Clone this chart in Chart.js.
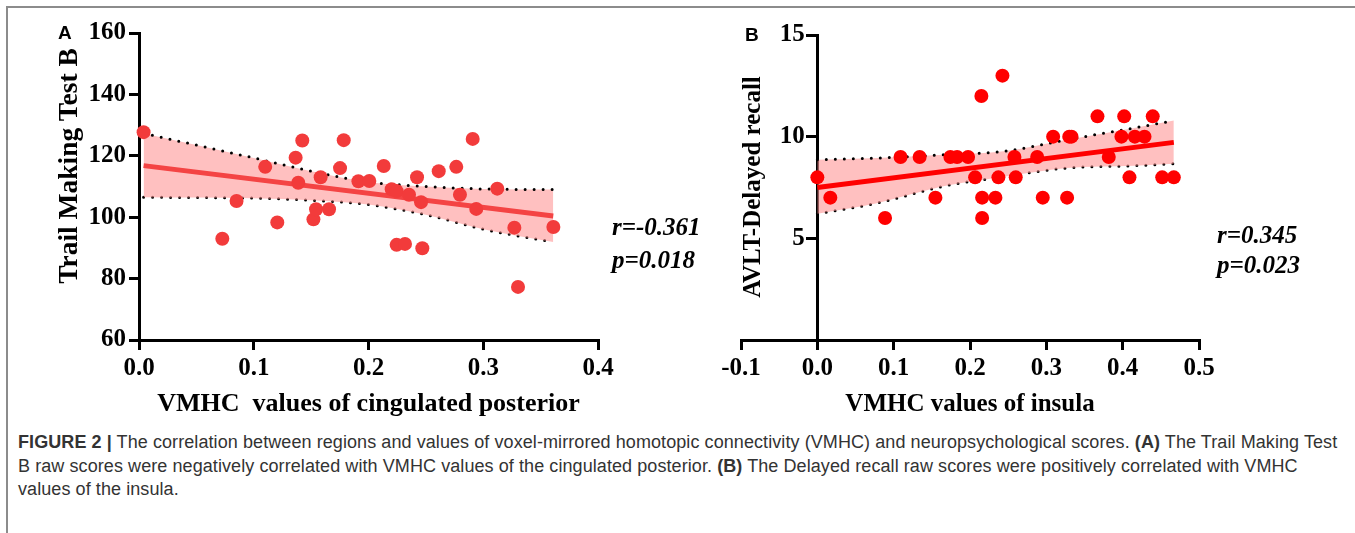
<!DOCTYPE html>
<html>
<head>
<meta charset="utf-8">
<script src="https://cdn.jsdelivr.net/npm/chart.js@4.4.1/dist/chart.umd.min.js"></script>
<style>
  body { margin: 0; width: 1355px; height: 533px; background: #fff; position: relative; overflow: hidden; }
  .frame { position: absolute; left: 6px; top: 6px; width: 1349px; height: 527px; border-top: 2px solid #8c8c8c; border-left: 2px solid #8c8c8c; }
  .panel { position: absolute; top: 0; height: 430px; }
  #boxA { left: 0; width: 680px; }
  #boxB { left: 700px; width: 655px; }
  .tag { position: absolute; font: bold 19px "Liberation Sans", Arial, sans-serif; color: #000; }
  .stat { position: absolute; font: italic bold 25px "Liberation Serif", "Times New Roman", serif; line-height: 33px; color: #000; }
  .ytitle { position: absolute; font: bold 25px "Liberation Serif", "Times New Roman", serif; color: #000; white-space: nowrap;
            transform: translate(-50%, -50%) rotate(-90deg); }
  .caption { position: absolute; left: 18px; top: 431px; font: 18px "Liberation Sans", Arial, sans-serif; color: #333;
             letter-spacing: 0.08px; line-height: 23.5px; white-space: nowrap; }
</style>
</head>
<body>
<div class="frame"></div>

<div class="panel" id="boxA"><canvas id="chartA"></canvas></div>
<div class="panel" id="boxB"><canvas id="chartB"></canvas></div>

<div class="tag" style="left:58px; top:22px;">A</div>
<div class="tag" style="left:745px; top:24px;">B</div>

<div class="stat" style="left:612px; top:210px;">r=-0.361<br>p=0.018</div>
<div class="stat" style="left:1217px; top:220px; line-height:30px;">r=0.345<br>p=0.023</div>

<!-- y titles are placed by hand: A sits above the axis centre, B's axis is pinned at x=0 -->
<div class="ytitle" style="left:68px; top:166px; font-size:27.5px;">Trail Making Test B</div>
<div class="ytitle" style="left:752px; top:187px;">AVLT-Delayed recall</div>

<div class="caption">
  <b>FIGURE 2 |</b> The correlation between regions and values of voxel-mirrored homotopic connectivity (VMHC) and neuropsychological scores. <b>(A)</b> The Trail Making Test<br>
  B raw scores were negatively correlated with VMHC values of the cingulated posterior. <b>(B)</b> The Delayed recall raw scores were positively correlated with VMHC<br>
  values of the insula.
</div>

<script>
// ---- Panel A: Trail Making Test B vs VMHC (cingulated posterior) ----
const aX = [0.004, 0.0726, 0.085, 0.110, 0.1205, 0.1365, 0.1423, 0.1388, 0.152, 0.1543, 0.1583, 0.1656,
            0.1752, 0.1784, 0.1912, 0.2007, 0.2133, 0.2202, 0.2245, 0.2245, 0.2318, 0.2353, 0.2423, 0.2458,
            0.2469, 0.2612, 0.2765, 0.2797, 0.2908, 0.2939, 0.3122, 0.3271, 0.3303, 0.3611];
const aY = [127.7, 93.0, 105.3, 116.4, 98.3, 119.4, 125.0, 111.2, 99.3, 102.6, 113.0, 102.6,
            116.0, 125.1, 111.7, 111.8, 116.7, 109.1, 108.5, 91.0, 91.3, 107.3, 113.0, 104.9,
            89.9, 115.0, 116.4, 107.3, 125.5, 102.7, 109.3, 96.6, 77.3, 96.8];
const aFitX = [0.004, 0.361];
const aFitY = [116.8, 100.4];
const aBandX = [0.004, 0.05, 0.1, 0.15, 0.2, 0.25, 0.3, 0.361];
const aUpper = [127.3, 123.5, 119.3, 115.0, 111.5, 110.0, 109.2, 109.0];
const aLower = [106.5, 106.4, 106.2, 105.5, 104.1, 100.8, 96.1, 91.9];
const aXTicks = [0, 0.1, 0.2, 0.3, 0.4];
const aYTicks = [60, 80, 100, 120, 140, 160];

// ---- Panel B: AVLT-Delayed recall vs VMHC (insula) ----
const bX = [0.0, 0.017, 0.0887, 0.109, 0.134, 0.1547, 0.1743, 0.1831, 0.1975, 0.2067, 0.2149, 0.2159,
            0.2159, 0.2333, 0.2372, 0.2425, 0.2582, 0.2599, 0.288, 0.2953, 0.3089, 0.3272, 0.330, 0.333,
            0.367, 0.3818, 0.3984, 0.402, 0.4089, 0.4159, 0.4286, 0.4394, 0.4518, 0.467];
const bY = [8, 7, 6, 9, 9, 7, 9, 9, 9, 8, 12, 7,
            6, 7, 8, 13, 9, 8, 9, 7, 10, 7, 10, 10,
            11, 9, 10, 11, 8, 10, 10, 11, 8, 8];
const bFitX = [0.0, 0.467];
const bFitY = [7.50, 9.72];
const bBandX = [0.0, 0.078, 0.165, 0.244, 0.327, 0.415, 0.467];
const bUpper = [8.87, 8.95, 9.11, 9.28, 9.85, 10.43, 10.79];
const bLower = [6.21, 6.73, 7.56, 8.03, 8.46, 8.57, 8.67];
const bXTicks = [-0.1, 0, 0.1, 0.2, 0.3, 0.4, 0.5];
const bYTicks = [0, 5, 10, 15];

const serif = "'Liberation Serif', 'Times New Roman', serif";
const tickFont = { family: serif, size: 25, weight: 'bold' };

function pts(xs, ys) {
    return xs.map((x, i) => ({ x: x, y: ys[i] }));
}

function buildDatasets(xs, ys, fitX, fitY, bandX, upper, lower, dotColor, lineColor) {
    const dotted = {
        showLine: true, pointRadius: 0, borderColor: '#000', borderWidth: 3,
        borderDash: [0, 9], borderCapStyle: 'round', cubicInterpolationMode: 'monotone', clip: false
    };
    return [
        { data: pts(xs, ys), backgroundColor: dotColor, pointRadius: 7, pointBorderWidth: 0, order: 0, clip: false },
        { data: pts(fitX, fitY), showLine: true, pointRadius: 0, borderColor: lineColor, borderWidth: 5, order: 1, clip: false },
        Object.assign({ data: pts(bandX, upper), fill: '+1', backgroundColor: 'rgba(255, 150, 150, 0.6)', order: 2 }, dotted),
        Object.assign({ data: pts(bandX, lower), fill: false, order: 3 }, dotted)
    ];
}

function axis(min, max, ticks, extra) {
    return Object.assign({
        type: 'linear', min: min, max: max,
        afterBuildTicks: s => { s.ticks = ticks.map(v => ({ value: v })); },
        ticks: { font: tickFont, color: '#000', padding: 4, callback: v => v },
        grid: { drawOnChartArea: false, color: '#000', lineWidth: 3, tickLength: 10 },
        border: { display: true, color: '#000', width: 3 }
    }, extra);
}

const baseOptions = {
    responsive: true,
    maintainAspectRatio: false,
    animation: false,
    plugins: { legend: { display: false }, tooltip: { enabled: false } }
};

new Chart(document.getElementById('chartA'), {
    type: 'scatter',
    data: { datasets: buildDatasets(aX, aY, aFitX, aFitY, aBandX, aUpper, aLower, '#f23b3b', '#f44444') },
    options: Object.assign({}, baseOptions, {
        layout: { padding: { left: 55, top: 33, right: 82, bottom: 10 } },
        scales: {
            x: axis(0, 0.4, aXTicks, {
                ticks: { font: tickFont, color: '#000', padding: 4, callback: v => v.toFixed(1) },
                title: { display: true, text: 'VMHC  values of cingulated posterior', color: '#000',
                         font: { family: serif, size: 26, weight: 'bold' }, padding: 0 },
                afterFit: s => { s.height = 80; }
            }),
            y: axis(60, 160, aYTicks, {
                ticks: { font: tickFont, color: '#000', padding: 3, callback: v => v },
                afterFit: s => { s.width = 84; }
            })
        }
    })
});

new Chart(document.getElementById('chartB'), {
    type: 'scatter',
    data: { datasets: buildDatasets(bX, bY, bFitX, bFitY, bBandX, bUpper, bLower, '#ff0000', '#ff0000') },
    options: Object.assign({}, baseOptions, {
        layout: { padding: { left: 41, top: 35, right: 156, bottom: 10 } },
        scales: {
            x: axis(-0.1, 0.5, bXTicks, {
                ticks: { font: tickFont, color: '#000', padding: 4, callback: v => v.toFixed(1) },
                title: { display: true, text: 'VMHC values of insula', color: '#000',
                         font: { family: serif, size: 25, weight: 'bold' }, padding: 0 },
                afterFit: s => { s.height = 80; }
            }),
            y: axis(0, 15, bYTicks, {
                position: { x: 0 },
                // labels of an axis pinned at x=0 are right-aligned on the axis line itself,
                // so two trailing spaces push them clear of the tick marks
                ticks: { font: tickFont, color: '#000', padding: 3, callback: v => (v === 0 ? '' : v + '  ') }
            })
        }
    })
});
</script>
</body>
</html>
